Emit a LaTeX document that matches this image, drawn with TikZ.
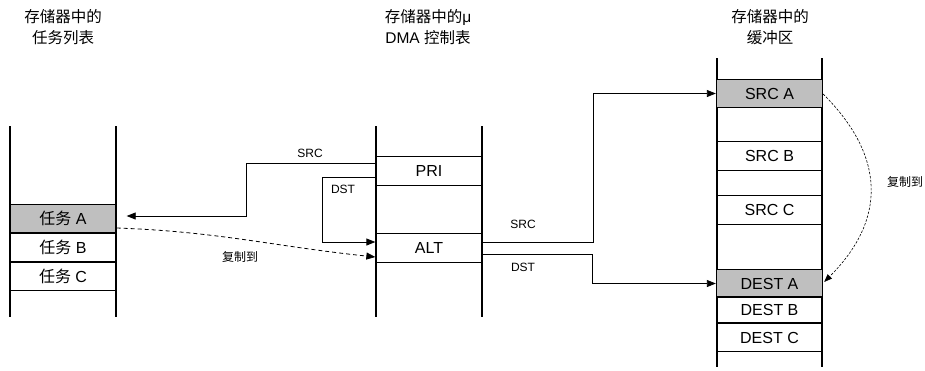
\documentclass[tikz,border=0pt]{standalone}
\usepackage{fontspec}
\setmainfont{Liberation Sans}
\newfontfamily\cjk{Noto Sans CJK SC}
\usetikzlibrary{arrows.meta,calc}
\begin{document}
\begin{tikzpicture}[x=1pt,y=-1pt,
  colline/.style={line width=1.3pt},
  cell/.style={draw,line width=1.3pt,minimum width=106pt,minimum height=28.5pt,inner sep=0pt,font=\fontsize{16}{18}\selectfont},
  hl/.style={cell,fill=black!25},
  conn/.style={line width=0.8pt,-{Triangle[length=9pt,width=7pt]}},
  dconn/.style={conn,dashed,dash pattern=on 4pt off 3pt},
  title/.style={align=center,font=\fontsize{15.5}{21}\selectfont},
  lbl/.style={font=\fontsize{12}{14}\selectfont,inner sep=1pt}]
\useasboundingbox (0,0) rectangle (925,370);
% titles
\node[title] (t1) at (63,27) {{\cjk 存储器中的}\\{\cjk 任务列表}};
\node[title] (t2) at (428,27) {{\cjk 存储器中的}μ\\DMA {\cjk 控制表}};
\node[title] (t3) at (770,27) {{\cjk 存储器中的}\\{\cjk 缓冲区}};
% column lines
\draw[colline] (10,126) -- (10,317) (116,126) -- (116,317);
\draw[colline] (376,126) -- (376,317) (482,126) -- (482,317);
\draw[colline] (717,58) -- (717,367) (822,58) -- (822,367);
% left column cells
\node[hl]   (ta) at (63,218.5) {{\cjk 任务} A};
\node[cell] (tb) at (63,247.5) {{\cjk 任务} B};
\node[cell] (tc) at (63,276.5) {{\cjk 任务} C};
% middle column cells
\node[cell] (pri) at (429,171) {PRI};
\node[cell] (alt) at (429,248) {ALT};
% right column cells
\node[hl]   (sa) at (769.5,93.5) {SRC A};
\node[cell] (sb) at (769.5,156) {SRC B};
\node[cell] (sc) at (769.5,210) {SRC C};
\node[hl]   (da) at (769.5,283.5) {DEST A};
\node[cell,minimum height=26pt] (db) at (769.5,310) {DEST B};
\node[cell] (dc) at (769.5,337.5) {DEST C};
% connectors
\draw[conn] ([yshift=8pt]pri.west) -- ++(-129,0) |- ([xshift=10pt,yshift=2.5pt]ta.east);
\node[lbl] (l1) at (310,153) {SRC};
\draw[conn] ([yshift=-6pt]pri.west) -- ++(-53,0) |- ([yshift=6pt]alt.west);
\node[lbl] (l2) at (343,189) {DST};
\draw[dconn] ([yshift=-9.5pt]ta.east) to[out=-2,in=174] ([yshift=-9pt]alt.west);
\node[lbl] (l3) at (240,257) {\cjk 复制到};
\draw[conn] ([yshift=6pt]alt.east) -- ++(111,0) |- (sa.west);
\node[lbl] (l4) at (523,224) {SRC};
\draw[conn] ([yshift=-6pt]alt.east) -- ++(110,0) |- (da.west);
\node[lbl] (l5) at (523,267) {DST};
\draw[line width=0.6pt,dashed,dash pattern=on 2.5pt off 1.5pt,-{Triangle[length=8pt,width=6pt]}] ([yshift=-0.5pt]sa.east) to[out=-45,in=45,looseness=1.2] ([xshift=1pt,yshift=1.5pt]da.east);
\node[lbl] (l6) at (905,182) {\cjk 复制到};
\end{tikzpicture}
\end{document}
